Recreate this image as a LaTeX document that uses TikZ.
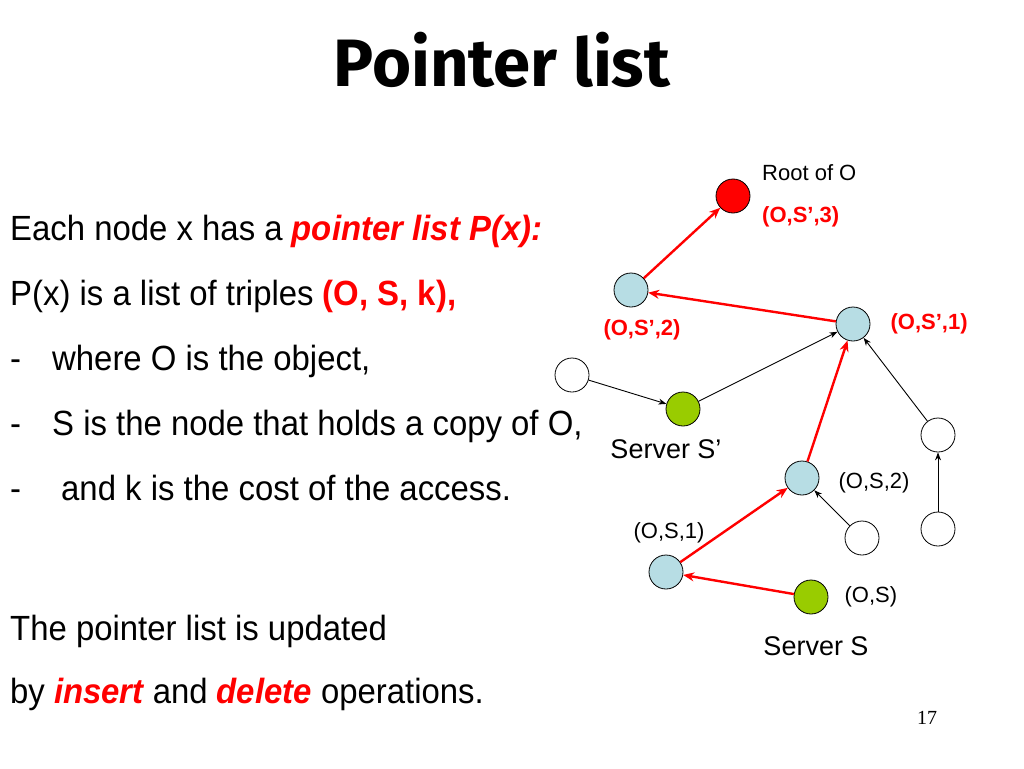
\documentclass[tikz,border=0pt]{standalone}
\usepackage{fontspec}
\setmainfont{Liberation Sans}
\newfontfamily\narrowfont[FakeStretch=0.94]{Liberation Sans}
\newfontfamily\titlefont{Fira Sans}
\newfontfamily\pagefont{Liberation Serif}
\usetikzlibrary{positioning,arrows.meta}
\definecolor{ptred}{RGB}{255,0,0}
\definecolor{ptblue}{RGB}{183,221,228}
\definecolor{ptgreen}{RGB}{153,204,0}

\begin{document}
\begin{tikzpicture}[
  x=1pt,y=-1pt,
  site/.style={draw,circle,minimum size=34pt,inner sep=0pt,line width=0.8pt},
  blank/.style={site,fill=white},
  cached/.style={site,fill=ptblue},
  server/.style={site,fill=ptgreen},
  rootsite/.style={site,fill=ptred},
  body/.style={anchor=base west,inner sep=0pt,font=\narrowfont\fontsize{35}{42}\selectfont},
  lbl/.style={inner sep=0pt,font=\fontsize{22}{26}\selectfont},
  redlbl/.style={inner sep=0pt,text=ptred,font=\bfseries\fontsize{22}{26}\selectfont},
  ptr/.style={draw=ptred,line width=2.4pt,-{Stealth[length=11pt,width=9pt]}},
  link/.style={draw,line width=0.9pt,-{Stealth[length=8pt,width=6pt]}},
]
  \useasboundingbox (0,0) rectangle (1024,768);

  % Title
  \node[anchor=base,inner sep=0pt,font=\titlefont\bfseries\fontsize{67}{72}\selectfont] (title) at (502,86) {Pointer list};

  % Text
  \node[body] (l1) at (10,240) {Each node x has a \textcolor{ptred}{\bfseries\itshape pointer list P(x):}};
  \node[body] (l2) at (10,305) {P(x) is a list of triples \textcolor{ptred}{\bfseries (O, S, k),}};
  \node[body] (l3) at (10,370) {\makebox[42pt][l]{-}where O is the object,};
  \node[body] (l4) at (10,435) {\makebox[42pt][l]{-}S is the node that holds a copy of O,};
  \node[body] (l5) at (10,500) {\makebox[51pt][l]{-}and k is the cost of the access.};
  \node[body] (l6) at (10,640) {The pointer list is updated};
  \node[body] (l7) at (10,703) {by \textcolor{ptred}{\bfseries\itshape insert} and \textcolor{ptred}{\bfseries\itshape delete} operations.};

  % Nodes
  \node[rootsite] (root) at (733,196) {};
  \node[cached] (sp2) at (631,290) {};
  \node[cached] (sp1) at (853,324) {};
  \node[blank] (wl) at (572,375) {};
  \node[server] (srvp) at (683,409) {};
  \node[blank] (wr) at (938,435) {};
  \node[cached] (s2) at (802,478) {};
  \node[blank] (wrb) at (938,529) {};
  \node[blank] (wm) at (862,538) {};
  \node[cached] (s1) at (666,572) {};
  \node[server] (srv) at (811,597) {};

  % Labels
  \node[lbl,anchor=west] (rootlbl) at (762,173) {Root of O};
  \node[redlbl,anchor=west] (t3) at (762,217) {(O,S’,3)};
  \node[redlbl] (t2) at (642,330) {(O,S’,2)};
  \node[redlbl,right=20pt of sp1] (t1) {(O,S’,1)};
  \node[lbl,font=\fontsize{27}{30}\selectfont] (srvplbl) at (666,449) {Server S’};
  \node[lbl,right=19pt of s2,yshift=-5pt] (u2) {(O,S,2)};
  \node[lbl] (u1) at (669,533) {(O,S,1)};
  \node[lbl,right=16pt of srv] (u0) {(O,S)};
  \node[lbl,font=\fontsize{27}{30}\selectfont] (srvlbl) at (816,646) {Server S};
  \node[lbl,font=\pagefont\fontsize{20}{24}\selectfont] (page) at (927,718) {17};

  % Edges: pointer path
  \draw[ptr] (srv) -- (s1);
  \draw[ptr] (s1) -- (s2);
  \draw[ptr] (s2) -- (sp1);
  \draw[ptr] (sp1) -- (sp2);
  \draw[ptr] (sp2) -- (root);

  % Edges: tree
  \draw[link] (wl) -- (srvp);
  \draw[link] (srvp) -- (sp1);
  \draw[link] (wr) -- (sp1);
  \draw[link] (wrb) -- (wr);
  \draw[link] (wm) -- (s2);
\end{tikzpicture}
\end{document}
